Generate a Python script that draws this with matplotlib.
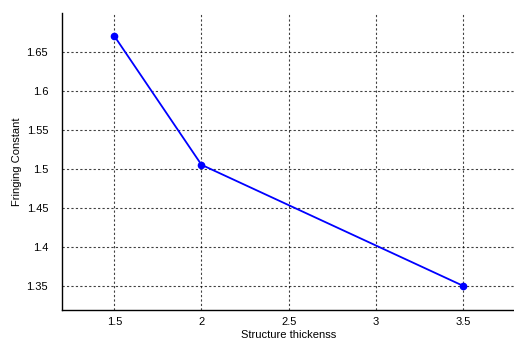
import numpy as np
import matplotlib.pyplot as plt

plt.rcParams['font.family'] = ['Liberation Sans', 'DejaVu Sans']

# thickness vs fringing constant
thickness = [1.5, 2.0, 3.5]
fringing = [1.670, 1.505, 1.350]
xticks = [1.5, 2, 2.5, 3, 3.5]
yticks = [1.35, 1.4, 1.45, 1.5, 1.55, 1.6, 1.65]

fig = plt.figure(figsize=(5.14, 3.41), dpi=100)
ax = fig.add_axes([0.1206, 0.0909, 0.882, 0.870])

ax.plot(thickness, fringing, '-', color=(0, 0, 1), lw=1.3,
        marker='o', markersize=4.5)

ax.set_xlim(1.2, 3.8)
ax.set_ylim(1.319, 1.699)
ax.set_xticks(xticks)
ax.set_xticklabels(['1.5', '2', '2.5', '3', '3.5'])
ax.set_yticks(yticks)
ax.set_yticklabels(['1.35', '1.4', '1.45', '1.5', '1.55', '1.6', '1.65'])
ax.tick_params(axis='x', labelsize=8, length=0, pad=5)
ax.tick_params(axis='y', labelsize=8, length=0, pad=10)

ax.grid(True, color='black', linestyle=(0, (2, 2)), lw=0.8, alpha=0.75)
ax.spines['top'].set_visible(False)
ax.spines['right'].set_visible(False)
ax.spines['left'].set_linewidth(1.0)
ax.spines['bottom'].set_linewidth(1.0)

ax.set_xlabel('Structure thickenss', fontsize=8, labelpad=2)
ax.set_ylabel('Fringing Constant', fontsize=8, labelpad=3)

fig.savefig('out.png', dpi=100)
